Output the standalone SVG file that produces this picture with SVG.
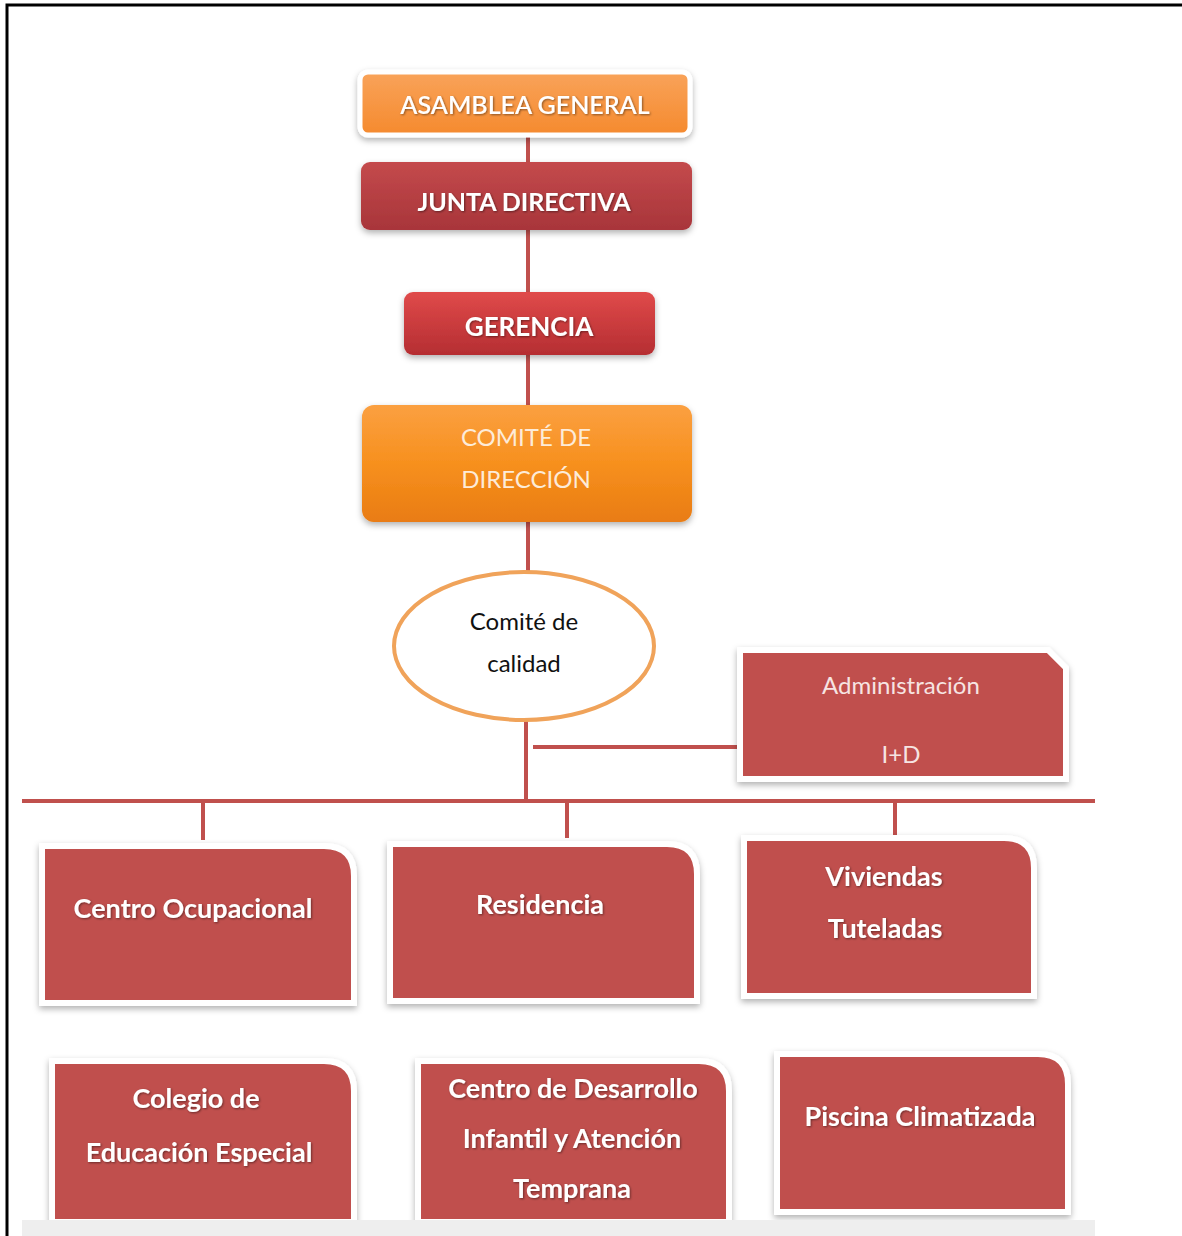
<svg xmlns="http://www.w3.org/2000/svg" width="1182" height="1236" viewBox="0 0 1182 1236">
<style>
.t{font-family:Lato,"Open Sans","Liberation Sans",sans-serif;text-anchor:middle;fill:#ffffff}
.b{font-weight:bold;filter:url(#ts)}
.lt{fill:#f6e4e2}
.conn{stroke:#c0504d;stroke-width:4;fill:none}
.card{fill:#c0504d;stroke:#ffffff;stroke-width:6;filter:url(#sh)}
</style>
<defs>
<filter id="sh" x="-10%" y="-10%" width="120%" height="130%">
<feDropShadow dx="0" dy="3" stdDeviation="3" flood-color="#000" flood-opacity="0.3"/>
</filter>
<filter id="ts" x="-5%" y="-20%" width="110%" height="140%">
<feDropShadow dx="1" dy="1" stdDeviation="0.8" flood-color="#000" flood-opacity="0.45"/>
</filter>
<linearGradient id="gOr" x1="0" y1="0" x2="0" y2="1">
<stop offset="0" stop-color="#f9a35a"/><stop offset="1" stop-color="#f58a2e"/>
</linearGradient>
<linearGradient id="gOr2" x1="0" y1="0" x2="0" y2="1">
<stop offset="0" stop-color="#fba041"/><stop offset="0.5" stop-color="#f7901e"/><stop offset="1" stop-color="#e97c12"/>
</linearGradient>
<linearGradient id="gJd" x1="0" y1="0" x2="0" y2="1">
<stop offset="0" stop-color="#c44a4c"/><stop offset="1" stop-color="#a8353a"/>
</linearGradient>
<linearGradient id="gGe" x1="0" y1="0" x2="0" y2="1">
<stop offset="0" stop-color="#e04a4a"/><stop offset="1" stop-color="#b52e32"/>
</linearGradient>
</defs>
<rect width="1182" height="1236" fill="#ffffff"/>
<path d="M7 1236 V5 H1182" fill="none" stroke="#000" stroke-width="3"/>

<g id="connectors">
<line class="conn" x1="528" y1="135" x2="528" y2="162"/>
<line class="conn" x1="528" y1="230" x2="528" y2="292"/>
<line class="conn" x1="528" y1="355" x2="528" y2="405"/>
<line class="conn" x1="528" y1="522" x2="528" y2="572"/>
<line class="conn" x1="526" y1="720" x2="526" y2="801"/>
<line class="conn" x1="533" y1="747" x2="738" y2="747"/>
<line class="conn" x1="22" y1="801" x2="1095" y2="801"/>
<line class="conn" x1="203" y1="801" x2="203" y2="840"/>
<line class="conn" x1="567" y1="801" x2="567" y2="838"/>
<line class="conn" x1="895" y1="801" x2="895" y2="838"/>
</g>

<g id="asamblea">
<rect x="360" y="72" width="330" height="63" rx="8" fill="url(#gOr)" stroke="#ffffff" stroke-width="5" filter="url(#sh)"/>
<text class="t b" x="525" y="114" font-size="25" style="font-weight:600">ASAMBLEA GENERAL</text>
</g>
<g id="junta">
<rect x="361" y="162" width="331" height="68" rx="9" fill="url(#gJd)" filter="url(#sh)"/>
<text class="t b" x="524" y="211" font-size="25">JUNTA DIRECTIVA</text>
</g>
<g id="gerencia">
<rect x="404" y="292" width="251" height="63" rx="9" fill="url(#gGe)" filter="url(#sh)"/>
<text class="t b" x="529" y="336" font-size="26">GERENCIA</text>
</g>
<g id="comite-direccion">
<rect x="362" y="405" width="330" height="117" rx="12" fill="url(#gOr2)" filter="url(#sh)"/>
<text class="t" x="526" y="446" font-size="24" style="fill:#fdebd8">COMITÉ DE</text>
<text class="t" x="526" y="488" font-size="24" style="fill:#fdebd8">DIRECCIÓN</text>
</g>
<g id="comite-calidad">
<ellipse cx="524" cy="646" rx="130" ry="74" fill="#ffffff" stroke="#f0a35a" stroke-width="4"/>
<text class="t" x="524" y="630" font-size="24" style="fill:#111">Comité de</text>
<text class="t" x="524" y="672" font-size="24" style="fill:#111">calidad</text>
</g>
<g id="administracion">
<path class="card" d="M740 650 H1048 L1066 668 V779 H740 Z"/>
<text class="t lt" x="901" y="694" font-size="24">Administración</text>
<text class="t lt" x="901" y="763" font-size="24">I+D</text>
</g>
<g id="centro-ocupacional">
<path class="card" d="M42 846 H324 Q354 846 354 876 V1003 H42 Z"/>
<text class="t b" x="193" y="918" font-size="27">Centro Ocupacional</text>
</g>
<g id="residencia">
<path class="card" d="M390 844 H667 Q697 844 697 874 V1001 H390 Z"/>
<text class="t b" x="540" y="914" font-size="27">Residencia</text>
</g>
<g id="viviendas">
<path class="card" d="M744 838 H1004 Q1034 838 1034 868 V996 H744 Z"/>
<text class="t b" x="884" y="886" font-size="27">Viviendas</text>
<text class="t b" x="885" y="938" font-size="27">Tuteladas</text>
</g>
<g id="colegio">
<path class="card" d="M52 1061 H324 Q354 1061 354 1091 V1222 H52 Z"/>
<text class="t b" x="196" y="1108" font-size="27">Colegio de</text>
<text class="t b" x="199" y="1162" font-size="27">Educación Especial</text>
</g>
<g id="desarrollo">
<path class="card" d="M418 1061 H699 Q729 1061 729 1091 V1222 H418 Z"/>
<text class="t b" x="573" y="1098" font-size="27">Centro de Desarrollo</text>
<text class="t b" x="572" y="1148" font-size="27">Infantil y Atención</text>
<text class="t b" x="572" y="1198" font-size="27">Temprana</text>
</g>
<g id="piscina">
<path class="card" d="M777 1054 H1038 Q1068 1054 1068 1084 V1212 H777 Z"/>
<text class="t b" x="920" y="1126" font-size="27">Piscina Climatizada</text>
</g>
<rect x="22" y="1220" width="1073" height="16" fill="#eeeeee"/>
</svg>
